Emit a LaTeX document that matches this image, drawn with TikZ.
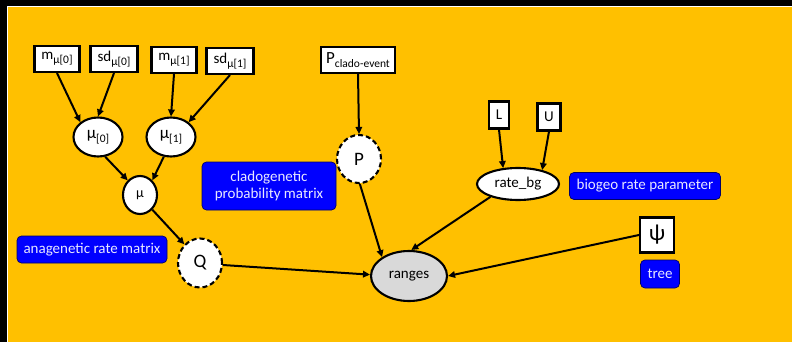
\documentclass[tikz,border=0pt]{standalone}
\usepackage{fontspec}
\setmainfont{Carlito}
\usetikzlibrary{shapes.geometric,arrows.meta}
\definecolor{bgorange}{HTML}{FFC000}
\definecolor{lblblue}{HTML}{0000FF}
\definecolor{lbltext}{HTML}{E8E8FF}
\definecolor{obsgray}{HTML}{D9D9D9}
\newcommand\lowsub[1]{\raisebox{-0.5ex}{\fontsize{11.5}{11.5}\selectfont #1}}
\begin{document}
\begin{tikzpicture}[x=1pt,y=-1pt,
 every node/.style={font=\fontsize{15}{17}\selectfont, inner sep=0pt},
 const/.style={draw, line width=2.1pt, fill=white, rectangle, minimum height=26pt},
 stoch/.style={draw, line width=2.1pt, fill=white, ellipse},
 determ/.style={stoch, dash pattern=on 5pt off 3pt},
 obs/.style={stoch, fill=obsgray},
 lbl/.style={fill=lblblue, draw=black!60!blue, line width=0.7pt, rounded corners=4.5pt, text=lbltext, align=center},
 arr/.style={-{Triangle[length=7pt,width=6.5pt]}, line width=2pt}]
\fill[black] (0,0) rectangle (792,342);
\fill[white] (7,6) rectangle (792,342);
\fill[bgorange] (8,7) rectangle (792,342);
\useasboundingbox (0,0) rectangle (792,342);

\node[const, minimum width=45pt] (m0) at (57,59) {m\lowsub{μ[0]}};
\node[const, minimum width=47pt] (sd0) at (114,59) {sd\lowsub{μ[0]}};
\node[const, minimum width=45pt] (m1) at (174,60) {m\lowsub{μ[1]}};
\node[const, minimum width=47pt] (sd1) at (230,61) {sd\lowsub{μ[1]}};
\node[stoch, minimum width=49pt, minimum height=39pt] (mu0) at (98,137) {\fontsize{17}{17}\selectfont μ\lowsub{[0]}};
\node[stoch, minimum width=49pt, minimum height=39pt] (mu1) at (171,137) {\fontsize{17}{17}\selectfont μ\lowsub{[1]}};
\node[stoch, minimum width=34pt, minimum height=38pt] (mu) at (140,195) {\fontsize{14}{14}\selectfont μ};
\node[determ, minimum width=44pt, minimum height=49pt] (Q) at (200,263) {\fontsize{19}{19}\selectfont Q};
\node[const, minimum width=74pt] (pce) at (358,60) {\fontsize{17}{17}\selectfont P\lowsub{clado-event}};
\node[determ, minimum width=44pt, minimum height=48pt] (P) at (359,159) {\fontsize{19}{19}\selectfont P};
\node[const, minimum width=20pt, minimum height=27pt] (L) at (499,115) {L};
\node[const, minimum width=23pt, minimum height=27pt] (U) at (549,117) {U};
\node[stoch, minimum width=82pt, minimum height=32pt] (rbg) at (518,184) {rate\_bg};
\node[obs, minimum width=76pt, minimum height=50pt] (ranges) at (409,276) {ranges};
\node[const, minimum width=34pt, minimum height=35pt] (psi) at (657,235) {\fontsize{23}{23}\selectfont ψ};

\node[lbl, minimum width=150pt, minimum height=27pt] (ana) at (92,249.5) {anagenetic rate matrix};
\node[lbl, minimum width=134pt, minimum height=48pt] (clado) at (269,186) {cladogenetic\\probability matrix};
\node[lbl, minimum width=151pt, minimum height=27pt] (bio) at (645,186) {biogeo rate parameter};
\node[lbl, minimum width=39pt, minimum height=28pt] (tree) at (660,274) {tree};

\draw[arr] (m0.south) -- (mu0.140);
\draw[arr] (sd0.south) -- (mu0.north);
\draw[arr] (m1.south) -- (mu1.north);
\draw[arr] (sd1.south) -- (mu1.40);
\draw[arr] (mu0.-70) -- (mu.130);
\draw[arr] (mu1.-110) -- (mu.50);
\draw[arr] (mu.-50) -- (Q.130);
\draw[arr] (pce.south) -- (P.north);
\draw[arr] (L.south) -- (rbg.133);
\draw[arr] (U.south) -- (rbg.30);
\draw[arr] (P.-88) -- (ranges.145);
\draw[arr] (Q.-5) -- (ranges.178);
\draw[arr] (rbg.205) -- (ranges.85);
\draw[arr] (psi.west) -- (ranges.east);
\end{tikzpicture}
\end{document}
